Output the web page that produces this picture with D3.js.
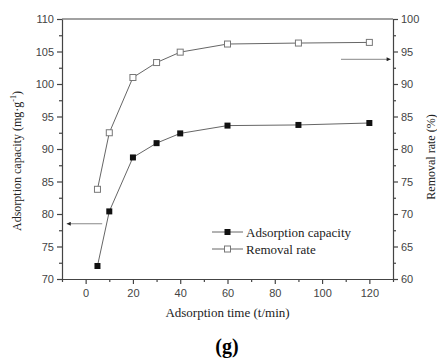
<!DOCTYPE html>
<html>
<head>
<meta charset="utf-8">
<script src="https://cdn.jsdelivr.net/npm/d3@7"></script>
<style>
  body { margin: 0; background: #fff; }
  svg { display: block; }
  .tick text { font-family: "Liberation Sans", Arial, sans-serif; font-size: 11px; fill: #444; }
  .lbl { font-family: "Liberation Serif", "Times New Roman", serif; font-size: 12px; fill: #222; }
</style>
</head>
<body>
<div id="chart"></div>
<script>
// data
const times = [5, 10, 20, 30, 40, 60, 90, 120];
const capacity = [72.0, 80.4, 88.7, 90.9, 92.4, 93.6, 93.7, 94.0];
const removal = [73.8, 82.5, 91.0, 93.3, 94.9, 96.15, 96.3, 96.4];
const xTicks = [0, 20, 40, 60, 80, 100, 120];
const leftTicks = [70, 75, 80, 85, 90, 95, 100, 105, 110];
const rightTicks = [60, 65, 70, 75, 80, 85, 90, 95, 100];

const width = 437, height = 359;
const margin = { left: 62, top: 19, right: 44, bottom: 80 };
const axisColor = '#444';

const svg = d3.select('#chart').append('svg')
  .attr('width', width)
  .attr('height', height);

const x = d3.scaleLinear().domain([-10, 130]).range([margin.left, width - margin.right]);
const yL = d3.scaleLinear().domain([70, 110]).range([height - margin.bottom, margin.top]);
const yR = d3.scaleLinear().domain([60, 100]).range([height - margin.bottom, margin.top]);

const x0 = margin.left, x1 = width - margin.right;
const y0 = height - margin.bottom, y1 = margin.top;

// minor ticks first
svg.append('g')
  .attr('transform', `translate(0,${y0})`)
  .call(d3.axisBottom(x).tickValues(d3.range(-10, 131, 20)).tickSize(3).tickFormat(''))
  .call(g => g.select('.domain').remove());
svg.append('g')
  .attr('transform', `translate(${x0},0)`)
  .call(d3.axisLeft(yL).tickValues(d3.range(72.5, 110, 5)).tickSize(3).tickFormat(''))
  .call(g => g.select('.domain').remove());
svg.append('g')
  .attr('transform', `translate(${x1},0)`)
  .call(d3.axisRight(yR).tickValues(d3.range(62.5, 100, 5)).tickSize(3).tickFormat(''))
  .call(g => g.select('.domain').remove());

// major axes
svg.append('g')
  .attr('transform', `translate(0,${y0})`)
  .call(d3.axisBottom(x).tickValues(xTicks).tickSize(5).tickPadding(5).tickSizeOuter(0));
svg.append('g')
  .attr('transform', `translate(${x0},0)`)
  .call(d3.axisLeft(yL).tickValues(leftTicks).tickSize(5).tickPadding(3).tickSizeOuter(0));
svg.append('g')
  .attr('transform', `translate(${x1},0)`)
  .call(d3.axisRight(yR).tickValues(rightTicks).tickSize(5).tickPadding(3).tickSizeOuter(0));

svg.selectAll('.domain, .tick line').attr('stroke', axisColor).attr('stroke-width', 1.2);

// top frame line
svg.append('line')
  .attr('x1', x0).attr('x2', x1).attr('y1', y1).attr('y2', y1)
  .attr('stroke', axisColor).attr('stroke-width', 1.2);

// series
const lineL = d3.line().x((d, i) => x(times[i])).y(d => yL(d));
const lineR = d3.line().x((d, i) => x(times[i])).y(d => yR(d));

svg.append('path').datum(capacity).attr('d', lineL)
  .attr('fill', 'none').attr('stroke', '#666').attr('stroke-width', 1);
svg.append('path').datum(removal).attr('d', lineR)
  .attr('fill', 'none').attr('stroke', '#666').attr('stroke-width', 1);

const ms = 6;
svg.selectAll('.capPt').data(capacity).enter().append('rect')
  .attr('class', 'capPt')
  .attr('x', (d, i) => x(times[i]) - ms / 2)
  .attr('y', d => yL(d) - ms / 2)
  .attr('width', ms).attr('height', ms)
  .attr('fill', '#111');
svg.selectAll('.remPt').data(removal).enter().append('rect')
  .attr('class', 'remPt')
  .attr('x', (d, i) => x(times[i]) - ms / 2)
  .attr('y', d => yR(d) - ms / 2)
  .attr('width', ms).attr('height', ms)
  .attr('fill', '#fff').attr('stroke', '#777').attr('stroke-width', 1);

// arrows
const defs = svg.append('defs');
defs.append('marker')
  .attr('id', 'arr')
  .attr('viewBox', '0 0 10 10')
  .attr('refX', 10).attr('refY', 5)
  .attr('markerWidth', 6).attr('markerHeight', 4)
  .attr('orient', 'auto')
  .append('path').attr('d', 'M0,0L10,5L0,10z').attr('fill', '#222');

svg.append('line')
  .attr('x1', x(7)).attr('x2', x(-8))
  .attr('y1', yL(78.5)).attr('y2', yL(78.5))
  .attr('stroke', '#888').attr('marker-end', 'url(#arr)');
svg.append('line')
  .attr('x1', x(108)).attr('x2', x(129))
  .attr('y1', yR(93.8)).attr('y2', yR(93.8))
  .attr('stroke', '#888').attr('marker-end', 'url(#arr)');

// legend
const legend = [
  { name: 'Adsorption capacity', fill: '#111', stroke: 'none' },
  { name: 'Removal rate', fill: '#fff', stroke: '#777' }
];
const lg = svg.append('g').attr('transform', 'translate(212,232)');
legend.forEach((d, i) => {
  const g = lg.append('g').attr('transform', `translate(0,${i * 17})`);
  g.append('line').attr('x1', 0).attr('x2', 31).attr('y1', 0).attr('y2', 0)
    .attr('stroke', '#666');
  g.append('rect').attr('x', 12.5).attr('y', -3).attr('width', 6).attr('height', 6)
    .attr('fill', d.fill).attr('stroke', d.stroke);
  g.append('text').attr('class', 'lbl').attr('x', 34).attr('y', 4.5)
    .style('font-size', '13px').text(d.name);
});

// axis titles
svg.append('text').attr('class', 'lbl')
  .attr('x', (x0 + x1) / 2).attr('y', 317)
  .attr('text-anchor', 'middle').style('font-size', '13px')
  .text('Adsorption time (t/min)');

const ly = svg.append('text').attr('class', 'lbl')
  .attr('transform', `translate(21,${(y0 + y1) / 2 + 12}) rotate(-90)`)
  .attr('text-anchor', 'middle').style('font-size', '12px');
ly.append('tspan').text('Adsorption capacity (mg·g');
ly.append('tspan').attr('dy', -5).style('font-size', '8px').text('-1');
ly.append('tspan').attr('dy', 5).text(')');

svg.append('text').attr('class', 'lbl')
  .attr('transform', `translate(435,${(y0 + y1) / 2 + 8}) rotate(-90)`)
  .attr('text-anchor', 'middle').style('font-size', '12px')
  .text('Removal rate (%)');

svg.append('text')
  .attr('x', 227).attr('y', 353)
  .attr('text-anchor', 'middle')
  .style('font-family', '"Liberation Serif", "Times New Roman", serif')
  .style('font-size', '20px').style('font-weight', 'bold')
  .text('(g)');
</script>
</body>
</html>
